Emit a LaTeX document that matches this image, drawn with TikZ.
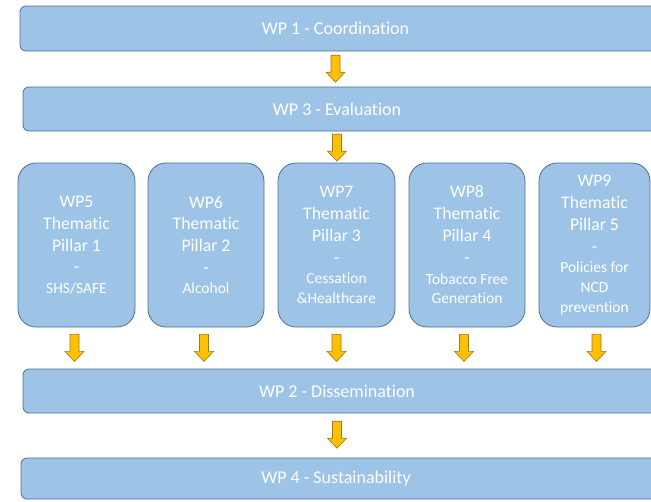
\documentclass[tikz,border=0pt]{standalone}
\usepackage{fontspec}
\setmainfont{Carlito}[Ligatures=NoCommon]
\usetikzlibrary{calc}
\definecolor{boxfill}{HTML}{9DC3E6}
\definecolor{boxline}{HTML}{4E6E8E}
\definecolor{arrfill}{HTML}{FFC000}
\definecolor{arrline}{HTML}{9C7A1E}
\begin{document}
\begin{tikzpicture}[x=1pt,y=-1pt,
  barshape/.style={draw=boxline, line width=0.8pt, fill=boxfill, rounded corners=6pt},
  bartext/.style={text=white, inner sep=0pt, font=\fontsize{18}{21}\selectfont},
  pillar/.style={draw=boxline, line width=0.8pt, fill=boxfill, rounded corners=18pt,
    text=white, align=center, inner sep=0pt, minimum height=164pt,
    font=\fontsize{17.7}{21.8}\selectfont},
  arr/.style={draw=arrline, line width=0.6pt, fill=arrfill, line join=miter},
  pics/downarrow/.style={code={\path[arr] (-4.5,0) -- (4.5,0) -- (4.5,17) -- (9.5,17) -- (0,27) -- (-9.5,17) -- (-4.5,17) -- cycle;}}
]
\useasboundingbox (0,0) rectangle (651,501);
\clip (0,0) rectangle (651,501);
\newcommand\subtxt[1]{{\fontsize{15.5}{19.5}\selectfont #1}}

% bars
\path[barshape] (20,6) rectangle (690,51);
\node[bartext, minimum width=631pt, minimum height=45pt] (wp1) at (335.5,28.5) {WP 1 - Coordination};
\path[barshape] (23,87) rectangle (690,131);
\node[bartext, minimum width=628pt, minimum height=44pt] (wp3) at (337,109) {WP 3 - Evaluation};
\path[barshape] (23,369) rectangle (690,413);
\node[bartext, minimum width=628pt, minimum height=44pt] (wp2) at (337,391) {WP 2 - Dissemination};
\path[barshape] (21,458) rectangle (690,499);
\node[bartext, minimum width=630pt, minimum height=41pt] (wp4) at (336,478.5) {WP 4 - Sustainability};

% pillars
\node[pillar, minimum width=117pt] (p5) at (76.5,245) {WP5\\Thematic\\Pillar 1\\-\\[-1.5pt]\subtxt{SHS/SAFE}};
\node[pillar, minimum width=116pt] (p6) at (206,245) {WP6\\Thematic\\Pillar 2\\-\\[-1.5pt]\subtxt{Alcohol}};
\node[pillar, minimum width=117pt] (p7) at (336.5,245) {WP7\\Thematic\\Pillar 3\\-\\[-1pt]\subtxt{Cessation}\\[-2pt]\subtxt{\&Healthcare}};
\node[pillar, minimum width=116pt] (p8) at (467,245) {WP8\\Thematic\\Pillar 4\\-\\[-1pt]\subtxt{Tobacco Free}\\[-2pt]\subtxt{Generation}};
\node[pillar, minimum width=111pt] (p9) at (594.5,245) {WP9\\Thematic\\Pillar 5\\-\\[-1.5pt]\subtxt{Policies for}\\[-2pt]\subtxt{NCD}\\[-2pt]\subtxt{prevention}};

% arrows
\pic at ([yshift=-4pt]wp1.south) {downarrow};
\pic at ([yshift=-3pt]wp3.south) {downarrow};
\pic at ([xshift=-2pt,yshift=-7pt]p5.south) {downarrow};
\pic at ([xshift=-2pt,yshift=-7pt]p6.south) {downarrow};
\pic at ([yshift=-7pt]p7.south) {downarrow};
\pic at ([xshift=-3pt,yshift=-7pt]p8.south) {downarrow};
\pic at ([xshift=2pt,yshift=-7pt]p9.south) {downarrow};
\pic at ([yshift=-8pt]wp2.south) {downarrow};
\end{tikzpicture}
\end{document}
